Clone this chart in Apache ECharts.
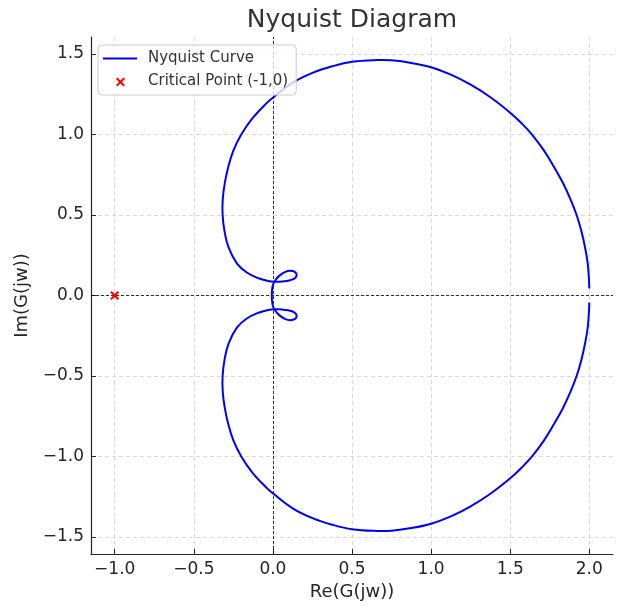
<!DOCTYPE html>
<html>
<head>
<meta charset="utf-8">
<script src="https://cdn.jsdelivr.net/npm/echarts@6/dist/echarts.min.js"></script>
<style>
html,body{margin:0;padding:0;background:#fff;}
#chart{width:627px;height:606px;}
</style>
</head>
<body>
<div id="chart"></div>
<script>
// Nyquist curve: upper branch, centre, lower branch
const upperRe = [
  2.000, 1.998, 1.990, 1.973, 1.950, 1.920, 1.880, 1.833, 1.776, 1.714,
  1.638, 1.572, 1.500, 1.375, 1.250, 1.125, 1.000, 0.875, 0.750, 0.660,
  0.500, 0.375, 0.250, 0.125, 0.000, -0.035, -0.130, -0.200, -0.250, -0.282,
  -0.304, -0.317, -0.318, -0.306, -0.281, -0.228, -0.165, -0.091, -0.030, 0.010,
  0.050, 0.095, 0.135, 0.150, 0.140, 0.110, 0.075, 0.040, 0.015, 0.000,
  -0.006
];
const upperIm = [
  0.044, 0.100, 0.200, 0.300, 0.400, 0.500, 0.600, 0.700, 0.800, 0.900,
  1.000, 1.070, 1.136, 1.232, 1.310, 1.372, 1.418, 1.445, 1.461, 1.463,
  1.452, 1.424, 1.383, 1.322, 1.229, 1.200, 1.100, 1.000, 0.900, 0.800,
  0.700, 0.600, 0.500, 0.400, 0.300, 0.200, 0.143, 0.107, 0.090, 0.085,
  0.086, 0.092, 0.105, 0.125, 0.145, 0.153, 0.145, 0.122, 0.095, 0.065,
  0.030
];
const centreRe = [-0.007];
const centreIm = [0.000];
const lowerRe = [
  -0.006, 0.000, 0.015, 0.040, 0.075, 0.110, 0.140, 0.150, 0.135, 0.095,
  0.050, 0.010, -0.030, -0.091, -0.165, -0.228, -0.281, -0.306, -0.318, -0.317,
  -0.304, -0.282, -0.250, -0.200, -0.130, -0.035, 0.000, 0.125, 0.250, 0.375,
  0.500, 0.660, 0.750, 0.875, 1.000, 1.125, 1.250, 1.375, 1.500, 1.572,
  1.638, 1.714, 1.776, 1.833, 1.880, 1.920, 1.950, 1.973, 1.990, 1.998,
  2.000
];
const lowerIm = [
  -0.030, -0.065, -0.095, -0.122, -0.145, -0.153, -0.145, -0.125, -0.105, -0.092,
  -0.086, -0.085, -0.090, -0.107, -0.143, -0.200, -0.300, -0.400, -0.500, -0.600,
  -0.700, -0.800, -0.900, -1.000, -1.100, -1.200, -1.229, -1.322, -1.383, -1.424,
  -1.452, -1.463, -1.461, -1.445, -1.418, -1.372, -1.310, -1.232, -1.136, -1.070,
  -1.000, -0.900, -0.800, -0.700, -0.600, -0.500, -0.400, -0.300, -0.200, -0.100,
  -0.044
];
const criticalPoint = [-1, 0];
const xTicks = [-1.0, -0.5, 0.0, 0.5, 1.0, 1.5, 2.0];
const yTicks = [-1.5, -1.0, -0.5, 0.0, 0.5, 1.0, 1.5];
const seriesNames = ['Nyquist Curve', 'Critical Point (-1,0)'];

const allRe = upperRe.concat(centreRe, lowerRe);
const allIm = upperIm.concat(centreIm, lowerIm);
const curveData = allRe.map((r, i) => [r, allIm[i]]);

const FONT = 'DejaVu Sans';
const TXT = '#262626';
const fmt = v => v.toFixed(1).replace('-', '\u2212');
const X_SYM = 'path://M0,1.6 L1.6,0 L5,3.4 L8.4,0 L10,1.6 L6.6,5 L10,8.4 L8.4,10 L5,6.6 L1.6,10 L0,8.4 L3.4,5 Z';
const BOX = 'M0,0 L0.01,0 L0,0.01 Z M34,14 L33.99,14 L34,13.99 Z ';
const X_LEG = 'path://' + BOX +
  'M13,4.4 L14.4,3 L17.5,6.1 L20.6,3 L22,4.4 L18.9,7.5 L22,10.6 L20.6,12 L17.5,8.9 L14.4,12 L13,10.6 L16.1,7.5 Z';
const LINE_LEG = 'path://' + BOX + 'M0,6 L34,6 L34,8 L0,8 Z';

// one smooth polyline through all curve points, placed by the cartesian axes
function renderCurve(params, api) {
  if (params.dataIndex !== 0) return null;
  const pts = curveData.map(p => api.coord(p));
  return {
    type: 'polyline',
    shape: {points: pts, smooth: 0.4},
    style: {stroke: '#0000ff', fill: null, lineWidth: 2, lineJoin: 'round', lineCap: 'butt'},
    silent: true
  };
}

const chart = echarts.init(document.getElementById('chart'), null, {renderer: 'canvas'});
chart.setOption({
  animation: false,
  backgroundColor: '#ffffff',
  textStyle: {fontFamily: FONT},
  title: {
    text: 'Nyquist Diagram',
    left: 352, top: 8, padding: 0, textAlign: 'center',
    textStyle: {fontFamily: FONT, fontSize: 25, fontWeight: 'normal', color: '#333333'}
  },
  legend: {
    orient: 'vertical',
    left: 98, top: 45,
    padding: [6, 8, 6, 5],
    itemWidth: 34, itemHeight: 14, itemGap: 8,
    backgroundColor: 'rgba(255,255,255,0.8)',
    borderColor: '#cccccc', borderWidth: 1, borderRadius: 4,
    textStyle: {fontFamily: FONT, fontSize: 15, color: '#333333', padding: [0, 0, 0, 6]},
    data: [
      {name: seriesNames[0], icon: LINE_LEG, itemStyle: {color: '#0000ff', opacity: 1}},
      {name: seriesNames[1], icon: X_LEG, itemStyle: {color: '#ff0000', opacity: 1}}
    ]
  },
  grid: {left: 91, right: 14, top: 37, bottom: 52, containLabel: false},
  xAxis: {
    type: 'value', min: -1.15, max: 2.15,
    name: 'Re(G(jw))', nameLocation: 'middle', nameGap: 27,
    nameTextStyle: {fontFamily: FONT, fontSize: 18, color: TXT},
    axisLine: {show: true, onZero: false, lineStyle: {color: TXT, width: 1.2}},
    axisTick: {show: true, inside: true, length: 5, customValues: xTicks, lineStyle: {color: TXT, width: 1}},
    axisLabel: {customValues: xTicks, formatter: fmt, fontFamily: FONT, fontSize: 17, color: TXT, margin: 7},
    splitLine: {show: true, lineStyle: {color: '#cfcfcf', type: [4, 3], width: 0.8}}
  },
  yAxis: {
    type: 'value', min: -1.606, max: 1.606,
    name: 'Im(G(jw))', nameLocation: 'middle', nameGap: 56,
    nameTextStyle: {fontFamily: FONT, fontSize: 18, color: TXT},
    axisLine: {show: true, onZero: false, lineStyle: {color: TXT, width: 1.2}},
    axisTick: {show: true, inside: true, length: 5, customValues: yTicks, lineStyle: {color: TXT, width: 1}},
    axisLabel: {customValues: yTicks, formatter: fmt, fontFamily: FONT, fontSize: 17, color: TXT, margin: 7},
    splitLine: {show: true, lineStyle: {color: '#cfcfcf', type: [4, 3], width: 0.8}}
  },
  series: [
    {
      name: seriesNames[0],
      type: 'custom',
      coordinateSystem: 'cartesian2d',
      data: curveData,
      encode: {x: 0, y: 1},
      renderItem: renderCurve,
      itemStyle: {color: '#0000ff'},
      z: 3
    },
    {
      name: seriesNames[1],
      type: 'scatter',
      data: [criticalPoint],
      symbol: X_SYM,
      symbolSize: 9,
      itemStyle: {color: '#ff0000', opacity: 1},
      z: 4,
      markLine: {
        silent: true,
        symbol: 'none',
        label: {show: false},
        lineStyle: {color: '#000000', type: [3, 2], width: 0.8},
        data: [{xAxis: 0}, {yAxis: 0}],
        z: 1
      }
    }
  ]
});
</script>
</body>
</html>
